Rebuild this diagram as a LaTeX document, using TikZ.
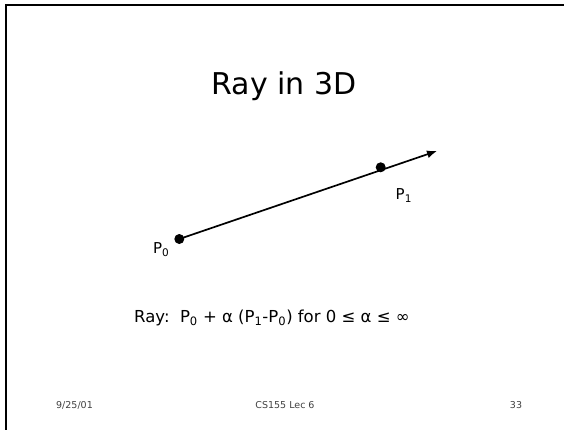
\documentclass[tikz,border=0pt]{standalone}
\usepackage{fontspec}
\usetikzlibrary{arrows.meta}
\setmainfont{DejaVu Sans}
\begin{document}
\begin{tikzpicture}[x=1pt,y=-1pt,
  dotpt/.style={circle,fill=black,inner sep=0pt,minimum size=10pt},
  lbl/.style={font=\fontsize{15}{18}\selectfont,inner sep=0pt,anchor=base west},
  foot/.style={font=\fontsize{9.5}{11}\selectfont,inner sep=0pt,text=black!75,anchor=base}]
\useasboundingbox (0,0) rectangle (564,430);
\draw[line width=2pt] (5.5,430) -- (5.5,5.5) -- (564,5.5);
\node[inner sep=0pt,anchor=base,font=\fontsize{30}{36}\selectfont] (title) at (284.2,94.5) {Ray in 3D};
\node[dotpt] (p0) at (179.3,239) {};
\node[dotpt] (p1) at (380.7,167.3) {};
\coordinate (tip) at (437,151);
\draw[line width=1.7pt,-{Latex[length=10pt,width=8pt]}] (p0.center) -- (tip);
\node[lbl] (l0) at (153,253.5) {P\textsubscript{0}};
\node[lbl] (l1) at (395.5,199.5) {P\textsubscript{1}};
\node[lbl,font=\fontsize{16.5}{20}\selectfont] (ray) at (134,322.7) {Ray:\ \ P\textsubscript{0} + α (P\textsubscript{1}-P\textsubscript{0}) for 0 ≤ α ≤ ∞};
\node[foot] (date) at (74.5,408) {9/25/01};
\node[foot] (course) at (285,408) {CS155 Lec 6};
\node[foot] (page) at (516,408) {33};
\end{tikzpicture}
\end{document}
